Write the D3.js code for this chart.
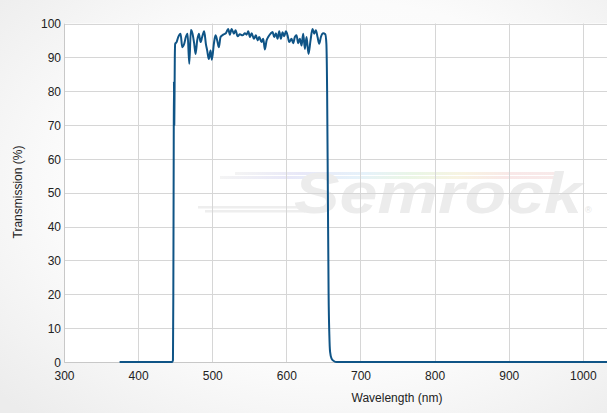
<!DOCTYPE html>
<html><head><meta charset="utf-8">
<script src="https://cdn.jsdelivr.net/npm/d3@7"></script>
<style>html,body{margin:0;padding:0;overflow:hidden;background:#fff}svg{display:block}</style>
</head><body>
<script>
const wavelength = [375,400,430,446,447,447.5,448,448.3,448.8,449.5,450,451.9,454.1,457.3,459.5,462.2,464.4,466.7,469,471.2,473.4,475.7,477.5,479.7,482,484.2,486.4,489.1,491.4,493.2,495.4,497.7,499.5,502.2,504.4,506.7,508.9,511.2,514.8,518.4,521.5,523.8,526.1,529.2,531.5,534.2,537.3,540.9,544.1,546.3,548.6,550.8,553.1,556.2,558.9,561.2,563.4,566.6,568.8,571,573.3,575.5,578.7,581.4,583.6,585.9,588.1,590.4,592.6,594.9,597.1,599.4,601.6,603.9,607,609.2,611.5,613.7,616,618.2,620.5,622.7,625,627.2,629.9,632.6,635.3,637.6,639.8,642.1,644.3,646.6,649.7,652.5,654,655,656,657,658,659,661,664,668,700,800,900,1000,1100];
const transmission = [0,0,0,0,0.5,20,60,83,70,90,94,94.5,96,97,93,94,96,97,88.1,98.1,97,94,91,95,97,94.5,96,97.7,94,92,89.5,92,89.3,94,96.5,95,93,96,96.7,97.1,98.4,96.7,98.4,97,98,96.2,96.8,96.5,97.1,96.7,97.7,96,97.1,95.5,96.5,95,96,94.5,95.5,92.3,95,96,97,97.5,96,97.1,95.5,97.7,95.5,97.4,96.2,97.7,96.5,94.5,95.5,94.2,96,96.5,94.2,95.5,93.5,97,92.5,96,91,95,98.4,97,98,96,94,96,97.1,96.8,94,80,50,20,8,3,1,0.3,0,0,0,0,0,0];
const xTicks = [300,400,500,600,700,800,900,1000];
const yTicks = [0,10,20,30,40,50,60,70,80,90,100];
const xTitle = "Wavelength (nm)";
const yTitle = "Transmission (%)";

const W = 607, H = 413;
const FONT = "Liberation Sans, Arial, sans-serif";
const svg = d3.select("body").append("svg").attr("width", W).attr("height", H);
const defs = svg.append("defs");
const bg = defs.append("radialGradient").attr("id","bg").attr("cx","55%").attr("cy","45%").attr("r","75%");
bg.append("stop").attr("offset","0%").attr("stop-color","#ffffff");
bg.append("stop").attr("offset","60%").attr("stop-color","#fbfbfb");
bg.append("stop").attr("offset","100%").attr("stop-color","#ececec");
svg.append("rect").attr("width", W).attr("height", H).attr("fill","url(#bg)");

const x = d3.scaleLinear().domain([300, 1032.6]).range([64, 607]);
const y = d3.scaleLinear().domain([0, 100]).range([362, 23.5]);

svg.append("rect").attr("x",64).attr("y",23.5).attr("width",W-64).attr("height",362-23.5).attr("fill","#fff");

// watermark
const rb = defs.append("linearGradient").attr("id","rb").attr("x1","0%").attr("x2","100%");
[["0%","#f4f4f4"],["20%","#e8e8f8"],["40%","#e6f2fa"],["55%","#eaf6e6"],["70%","#f8f4e2"],["85%","#f9e8e8"],["100%","#f8eaea"]]
  .forEach(([o,c])=>rb.append("stop").attr("offset",o).attr("stop-color",c));
const wm = svg.append("g");
wm.append("rect").attr("x",235).attr("y",172).attr("width",326).attr("height",3).attr("fill","url(#rb)");
wm.append("rect").attr("x",220).attr("y",176).attr("width",338).attr("height",3).attr("fill","url(#rb)");
wm.append("rect").attr("x",198).attr("y",206).attr("width",110).attr("height",2.5).attr("fill","#eeeeee");
wm.append("rect").attr("x",205).attr("y",210).attr("width",100).attr("height",2.5).attr("fill","#eeeeee");
wm.append("text").attr("x",294).attr("y",213).attr("font-family",FONT)
  .attr("font-size",58).attr("font-weight","bold").attr("font-style","italic").attr("fill","#ececec")
  .attr("textLength",288).attr("lengthAdjust","spacingAndGlyphs").text("Semrock");
wm.append("text").attr("x",585).attr("y",213).attr("font-family",FONT)
  .attr("font-size",9).attr("fill","#e4e4e4").text("®");

// grid
const grid = svg.append("g").attr("stroke","#d6d6d6").attr("stroke-width",1);
yTicks.forEach(t=>grid.append("line").attr("x1",64).attr("x2",W).attr("y1",Math.round(y(t))+0.5).attr("y2",Math.round(y(t))+0.5));
xTicks.forEach(t=>grid.append("line").attr("x1",Math.round(x(t))+0.5).attr("x2",Math.round(x(t))+0.5).attr("y1",23.5).attr("y2",362));

// axes
const xa = svg.append("g").attr("transform","translate(0,362)")
  .call(d3.axisBottom(x).tickValues(xTicks).tickSize(0).tickPadding(9).tickFormat(d3.format("d")));
const ya = svg.append("g").attr("transform","translate(64,0)")
  .call(d3.axisLeft(y).tickValues(yTicks).tickSize(0).tickPadding(3).tickFormat(d3.format("d")));
[xa,ya].forEach(a=>{
  a.select(".domain").attr("stroke","#c8c8c8");
  a.selectAll("text").attr("font-family",FONT).attr("font-size",12).attr("fill","#222");
});
ya.selectAll("text").attr("dy","0.35em");

// line
defs.append("clipPath").attr("id","clip").append("rect").attr("x",64).attr("y",0).attr("width",W-64).attr("height",363);
const data = wavelength.map((w,i)=>[w, transmission[i]]);
svg.append("path").datum(data).attr("clip-path","url(#clip)")
  .attr("fill","none").attr("stroke","#0f5486").attr("stroke-width",2).attr("stroke-linejoin","round")
  .attr("d", d3.line().x(d=>x(d[0])).y(d=>y(d[1])).curve(d3.curveMonotoneX));

// titles
svg.append("text").attr("x",397).attr("y",402).attr("text-anchor","middle")
  .attr("font-family",FONT).attr("font-size",12).attr("fill","#222").text(xTitle);
svg.append("text").attr("transform","translate(22,192) rotate(-90)").attr("text-anchor","middle")
  .attr("font-family",FONT).attr("font-size",12).attr("fill","#222").text(yTitle);
</script>
</body></html>
